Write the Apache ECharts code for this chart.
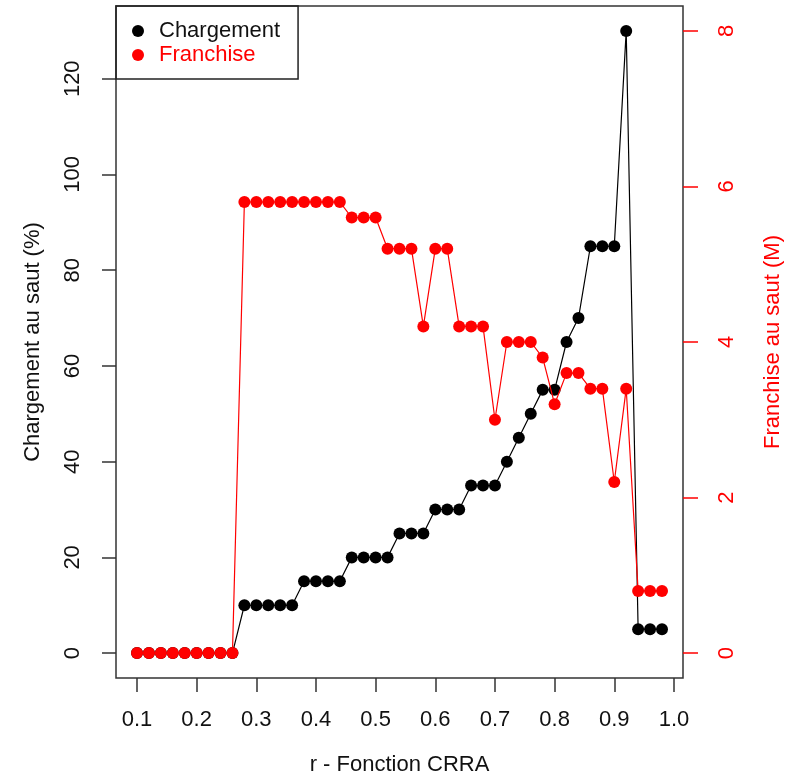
<!DOCTYPE html>
<head>
  <meta charset="utf-8">
  <title>Chargement / Franchise au saut</title>
  <script src="https://cdn.jsdelivr.net/npm/echarts@6/dist/echarts.min.js"></script>
  <style>
    html, body { margin: 0; padding: 0; background: #fff; }
  </style>
</head>
<body>
  <div id="main" style="width: 795px;height:778px;"></div>
  <script>
    // r values (CRRA)
    var rValues = [0.10, 0.12, 0.14, 0.16, 0.18, 0.20, 0.22, 0.24, 0.26, 0.28,
                   0.30, 0.32, 0.34, 0.36, 0.38, 0.40, 0.42, 0.44, 0.46, 0.48,
                   0.50, 0.52, 0.54, 0.56, 0.58, 0.60, 0.62, 0.64, 0.66, 0.68,
                   0.70, 0.72, 0.74, 0.76, 0.78, 0.80, 0.82, 0.84, 0.86, 0.88,
                   0.90, 0.92, 0.94, 0.96, 0.98];
    // chargement au saut (%)
    var chargement = [0, 0, 0, 0, 0, 0, 0, 0, 0, 10,
                      10, 10, 10, 10, 15, 15, 15, 15, 20, 20,
                      20, 20, 25, 25, 25, 30, 30, 30, 35, 35,
                      35, 40, 45, 50, 55, 55, 65, 70, 85, 85,
                      85, 130, 5, 5, 5];
    // franchise au saut (M)
    var franchise = [0, 0, 0, 0, 0, 0, 0, 0, 0, 5.8,
                     5.8, 5.8, 5.8, 5.8, 5.8, 5.8, 5.8, 5.8, 5.6, 5.6,
                     5.6, 5.2, 5.2, 5.2, 4.2, 5.2, 5.2, 4.2, 4.2, 4.2,
                     3.0, 4.0, 4.0, 4.0, 3.8, 3.2, 3.6, 3.6, 3.4, 3.4,
                     2.2, 3.4, 0.8, 0.8, 0.8];

    var xTicks = [0.1, 0.2, 0.3, 0.4, 0.5, 0.6, 0.7, 0.8, 0.9, 1.0];
    var leftTicks = [0, 20, 40, 60, 80, 100, 120];
    var rightTicks = [0, 2, 4, 6, 8];

    var font = 'Liberation Sans, Arial, sans-serif';
    var fs = 22;
    var myChart = echarts.init(document.getElementById('main'));

    function pairs(ys) {
      return rValues.map(function (x, i) { return [x, ys[i]]; });
    }

    var option = {
      animation: false,
      textStyle: { fontFamily: font },
      grid: {
        left: 116, right: 112, top: 6, bottom: 100,
        outerBoundsMode: 'none',
        show: true, borderColor: '#333', borderWidth: 1.5, backgroundColor: 'transparent'
      },
      legend: {
        left: 116, top: 6,
        orient: 'vertical',
        borderColor: '#222', borderWidth: 1.5,
        padding: [14, 18, 13, 16],
        itemWidth: 12, itemHeight: 12, itemGap: 2,
        icon: 'circle',
        textStyle: { fontSize: fs, lineHeight: 22, padding: [0, 0, 0, 10], fontFamily: font },
        data: [
          { name: 'Chargement', textStyle: { color: '#111' } },
          { name: 'Franchise', textStyle: { color: '#ff0000' } }
        ]
      },
      xAxis: {
        type: 'value',
        min: 0.0648, max: 1.0152,
        name: 'r - Fonction CRRA',
        nameLocation: 'middle', nameGap: 76,
        nameTextStyle: { fontSize: fs, color: '#111' },
        axisLine: { show: false, onZero: false },
        axisTick: { show: true, customValues: xTicks, length: 14, lineStyle: { color: '#333', width: 1.5 } },
        axisLabel: { customValues: xTicks, margin: 31, fontSize: fs, color: '#111',
                     formatter: function (v) { return v.toFixed(1); } },
        splitLine: { show: false }
      },
      yAxis: [
        {
          type: 'value',
          min: -5.2, max: 135.2,
          position: 'left',
          name: 'Chargement au saut (%)',
          nameLocation: 'middle', nameGap: 72,
          nameTextStyle: { fontSize: fs, color: '#111' },
          axisLine: { show: false, onZero: false },
          axisTick: { show: true, customValues: leftTicks, length: 14, lineStyle: { color: '#333', width: 1.5 } },
          axisLabel: { customValues: leftTicks, rotate: 90, margin: 32, fontSize: fs, color: '#111' },
          splitLine: { show: false }
        },
        {
          type: 'value',
          min: -0.32, max: 8.32,
          position: 'right',
          name: 'Franchise au saut (M)',
          nameLocation: 'middle', nameGap: 79,
          nameTextStyle: { fontSize: fs, color: '#ff0000' },
          axisLine: { show: false, onZero: false },
          axisTick: { show: true, customValues: rightTicks, length: 15, lineStyle: { color: '#ff0000', width: 1.5 } },
          axisLabel: { customValues: rightTicks, rotate: 90, margin: 33, fontSize: fs, color: '#ff0000' },
          splitLine: { show: false }
        }
      ],
      series: [
        {
          name: 'Chargement',
          type: 'line',
          yAxisIndex: 0,
          data: pairs(chargement),
          symbol: 'circle', symbolSize: 12,
          lineStyle: { color: '#000', width: 1.2 },
          itemStyle: { color: '#000' },
          z: 2
        },
        {
          name: 'Franchise',
          type: 'line',
          yAxisIndex: 1,
          data: pairs(franchise),
          symbol: 'circle', symbolSize: 12,
          lineStyle: { color: '#ff0000', width: 1.2 },
          itemStyle: { color: '#ff0000' },
          z: 3
        }
      ]
    };

    myChart.setOption(option);
  </script>
</body>
